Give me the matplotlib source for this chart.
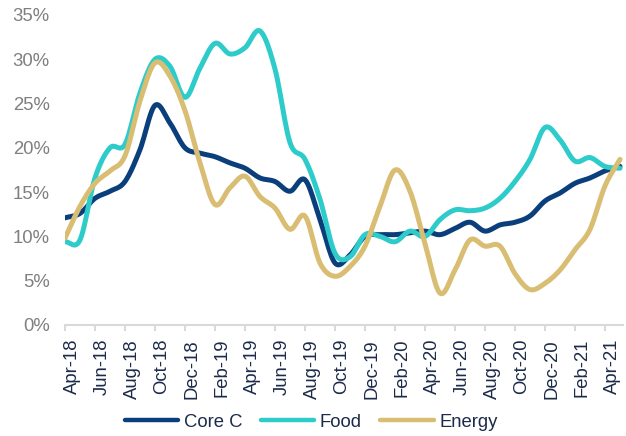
import matplotlib
matplotlib.use("Agg")
import matplotlib.pyplot as plt
import matplotlib.transforms as mtransforms
import numpy as np

# monthly readings, Apr-18 .. May-21 (%)
core_c = [12.1, 12.6, 14.3, 15.1, 16.2, 19.8, 24.8, 22.8, 20.0, 19.4,
          19.0, 18.3, 17.7, 16.6, 16.2, 15.1, 16.4, 11.9, 7.0, 7.9,
          10.0, 10.2, 10.2, 10.4, 10.6, 10.2, 10.9, 11.6, 10.6, 11.3,
          11.6, 12.3, 14.0, 14.9, 16.0, 16.6, 17.4, 17.9]
food = [9.4, 9.6, 16.6, 20.0, 20.4, 26.2, 30.0, 29.2, 25.7, 29.0,
        31.8, 30.6, 31.3, 33.2, 28.9, 20.6, 18.7, 14.2, 8.1, 7.7,
        10.2, 10.0, 9.4, 10.6, 10.0, 11.9, 13.0, 12.9, 13.2, 14.3,
        16.2, 18.7, 22.3, 20.9, 18.5, 18.9, 17.9, 17.7]
energy = [9.8, 13.4, 16.0, 17.4, 19.1, 25.3, 29.6, 28.1, 24.2, 18.3,
          13.6, 15.5, 16.8, 14.5, 13.2, 10.8, 12.3, 7.0, 5.5, 6.6,
          8.9, 13.4, 17.5, 15.1, 9.2, 3.6, 6.2, 9.6, 8.9, 8.9,
          5.8, 4.0, 4.7, 6.2, 8.5, 10.8, 15.7, 18.7]
tick_labels = ["Apr-18", "Jun-18", "Aug-18", "Oct-18", "Dec-18", "Feb-19",
               "Apr-19", "Jun-19", "Aug-19", "Oct-19", "Dec-19", "Feb-20",
               "Apr-20", "Jun-20", "Aug-20", "Oct-20", "Dec-20", "Feb-21",
               "Apr-21"]
names = ["Core C", "Food", "Energy"]
colors = ["#0b3f7c", "#2ecbcb", "#d8bd72"]


def smooth(y, n=12):
    # catmull-rom through the points, like excel's smoothed line
    y = np.asarray(y, dtype=float)
    p = np.concatenate([[2 * y[0] - y[1]], y, [2 * y[-1] - y[-2]]])
    xs, ys = [], []
    t = np.linspace(0, 1, n, endpoint=False)
    for i in range(len(y) - 1):
        p0, p1, p2, p3 = p[i], p[i + 1], p[i + 2], p[i + 3]
        seg = 0.5 * ((2 * p1) + (-p0 + p2) * t
                     + (2 * p0 - 5 * p1 + 4 * p2 - p3) * t ** 2
                     + (-p0 + 3 * p1 - 3 * p2 + p3) * t ** 3)
        xs.append(i + t)
        ys.append(seg)
    xs.append([len(y) - 1])
    ys.append([y[-1]])
    return np.concatenate(xs), np.concatenate(ys)


plt.rcParams['font.family'] = ['Liberation Sans', 'DejaVu Sans']
fs = 13.3

fig = plt.figure(figsize=(6.26, 4.36), dpi=100)
ax = fig.add_axes([0.1038, 0.2546, 0.8914, 0.711])

for vals, name, c in zip([core_c, food, energy], names, colors):
    sx, sy = smooth(vals)
    ax.plot(sx, sy, color=c, lw=3.6, label=name, solid_capstyle='round')

ax.set_xlim(0, 37.2)
ax.set_ylim(0, 35)
ax.set_yticks(range(0, 36, 5))
ax.set_yticklabels([f"{v}%" for v in range(0, 36, 5)])
ax.set_xticks(range(0, 37, 2))
ax.set_xticklabels(tick_labels, rotation=90)

for s in ["top", "right", "left"]:
    ax.spines[s].set_visible(False)
ax.spines["bottom"].set_color("#d9d9d9")
ax.spines["bottom"].set_linewidth(1.5)
ax.tick_params(axis="y", length=0, pad=11, labelsize=fs, labelcolor="#7f7f7f")
ax.tick_params(axis="x", length=4, width=1.5, color="#d9d9d9", pad=6,
               labelsize=fs, labelcolor="#1c2b4a")

# labels sit half a month right of their tick
shift = mtransforms.ScaledTranslation(7 / 100, 0, fig.dpi_scale_trans)
for lab in ax.get_xticklabels():
    lab.set_transform(lab.get_transform() + shift)

leg = fig.legend(loc="center", bbox_to_anchor=(0.497, 0.032), ncol=3,
                 frameon=False, fontsize=fs, handlelength=2.9,
                 handletextpad=0.3, columnspacing=1.0)
for h in leg.get_lines():
    h.set_linewidth(3.2)
for t in leg.get_texts():
    t.set_color("#1c2b4a")

fig.savefig("out.png", dpi=100)
